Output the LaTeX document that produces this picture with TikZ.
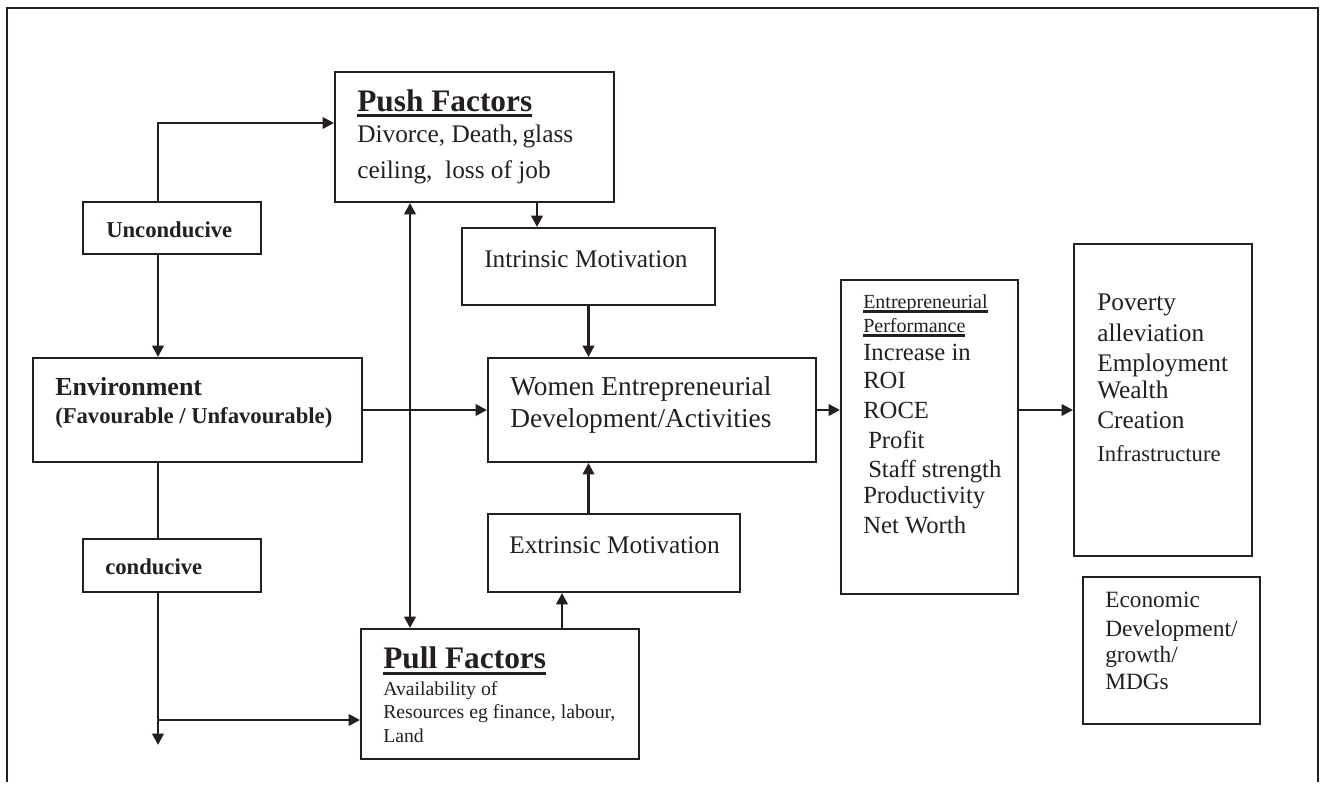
\documentclass[tikz,border=0pt]{standalone}
\usepackage{fontspec}
\setmainfont{Liberation Serif}
\usetikzlibrary{arrows.meta,calc}
\definecolor{ink}{HTML}{231F20}
\newcommand\fsz[1]{\fontsize{#1}{#1}\selectfont}
\newcommand\ulbox[3]{\setbox0=\hbox{#3}\rlap{\rule[-#1]{\wd0}{#2}}\box0}
\tikzset{
  box/.style={draw=ink, line width=1.5pt, inner sep=0pt, anchor=north west},
  txt/.style={anchor=base west, inner sep=0pt, text=ink},
  ln/.style={draw=ink, line width=1.9pt},
  arr/.style={ln, -{Triangle[length=8.5pt,width=8.5pt]}},
  arrtwo/.style={ln, {Triangle[length=8.5pt,width=8.5pt]}-{Triangle[length=8.5pt,width=8.5pt]}},
  frame/.style={draw=ink, line width=1.5pt}
}
\begin{document}
\begin{tikzpicture}[x=0.75pt,y=-0.75pt]
\useasboundingbox (0,0) rectangle (1320,785);
\draw[frame] (7,782) -- (7,8) -- (1318,8) -- (1318,782);

% boxes
\node[box, minimum width=279*0.75pt, minimum height=130*0.75pt] (push) at (334,71) {};
\node[box, minimum width=178*0.75pt, minimum height=52*0.75pt] (uncond) at (82,201) {};
\node[box, minimum width=329*0.75pt, minimum height=104*0.75pt] (env) at (32,357) {};
\node[box, minimum width=178*0.75pt, minimum height=53*0.75pt] (cond) at (82,538) {};
\node[box, minimum width=253*0.75pt, minimum height=77*0.75pt] (intr) at (461,227) {};
\node[box, minimum width=328*0.75pt, minimum height=104*0.75pt] (women) at (487,357) {};
\node[box, minimum width=252*0.75pt, minimum height=78*0.75pt] (extr) at (487,513) {};
\node[box, minimum width=278*0.75pt, minimum height=130*0.75pt] (pull) at (360,628) {};
\node[box, minimum width=177*0.75pt, minimum height=314*0.75pt] (perf) at (840,279) {};
\node[box, minimum width=178*0.75pt, minimum height=312*0.75pt] (pov) at (1073,243) {};
\node[box, minimum width=177*0.75pt, minimum height=147*0.75pt] (econ) at (1082,576) {};

% texts
\node[txt, font=\bfseries\fsz{23.5}] (pusht) at (357,111) {\ulbox{4.6pt}{2.4pt}{Push Factors}};
\node[txt, font=\fsz{19}] (pusha) at (357,142) {Divorce,\ Death,\,glass};
\node[txt, font=\fsz{19}] (pushb) at (357,178) {ceiling,\ \ loss of job};
\node[txt, font=\bfseries\fsz{17}] (uncondt) at (106,237) {Unconducive};
\node[txt, font=\bfseries\fsz{19.5}] (envt) at (55,395) {Environment};
\node[txt, font=\bfseries\fsz{17}] (envs) at (55,423) {(Favourable / Unfavourable)};
\node[txt, font=\bfseries\fsz{17}] (condt) at (105,574) {conducive};
\node[txt, font=\fsz{19}] (intrt) at (484,267) {Intrinsic Motivation};
\node[txt, font=\fsz{20.5}] (womena) at (510,395) {Women\ Entrepreneurial};
\node[txt, font=\fsz{20.5}] (womenb) at (510,427) {Development/Activities};
\node[txt, font=\fsz{19}] (extrt) at (509,553) {Extrinsic Motivation};
\node[txt, font=\bfseries\fsz{23.5}] (pullt) at (383,668) {\ulbox{5.5pt}{2.4pt}{Pull Factors}};
\node[txt, font=\fsz{14.8}] (pulla) at (383,695) {Availability of};
\node[txt, font=\fsz{14.8}] (pullb) at (383,718) {Resources eg finance, labour,};
\node[txt, font=\fsz{14.8}] (pullc) at (383,742) {Land};
\node[txt, font=\fsz{15}] (perfa) at (863,308) {\ulbox{3.4pt}{2pt}{Entrepreneurial}};
\node[txt, font=\fsz{15}] (perfb) at (863,332) {\ulbox{3.4pt}{2pt}{Performance}};
\node[txt, font=\fsz{18.5}] (perfc) at (863,360) {Increase in};
\node[txt, font=\fsz{18.5}] (perfd) at (863,388) {ROI};
\node[txt, font=\fsz{18.5}] (perfe) at (863,418) {ROCE};
\node[txt, font=\fsz{18.5}] (perff) at (868,448) {Profit};
\node[txt, font=\fsz{18.5}] (perfg) at (868,477) {Staff strength};
\node[txt, font=\fsz{18.5}] (perfh) at (863,503) {Productivity};
\node[txt, font=\fsz{18.5}] (perfi) at (863,533) {Net Worth};
\node[txt, font=\fsz{19}] (pova) at (1097,310) {Poverty};
\node[txt, font=\fsz{19}] (povb) at (1097,341) {alleviation};
\node[txt, font=\fsz{19}] (povc) at (1097,371) {Employment};
\node[txt, font=\fsz{19}] (povd) at (1097,398) {Wealth};
\node[txt, font=\fsz{19}] (pove) at (1097,428) {Creation};
\node[txt, font=\fsz{17}] (povf) at (1097,461) {Infrastructure};
\node[txt, font=\fsz{17.5}] (econa) at (1105,607) {Economic};
\node[txt, font=\fsz{17.5}] (econb) at (1105,636) {Development/};
\node[txt, font=\fsz{17.5}] (econc) at (1105,662) {growth/};
\node[txt, font=\fsz{17.5}] (econd) at (1105,689) {MDGs};

% connectors
\coordinate (vx) at (158,0);
\coordinate (vy) at (410,0);
\coordinate (px) at (537,0);
\coordinate (qx) at (562,0);
\coordinate (tip) at (158,745);
\coordinate (br) at (158,720);
\coordinate (pushin) at ($(push.north west)+(0,52)$);
\draw[arr] (vx |- uncond.north) |- (pushin);
\draw[arr] (vx |- uncond.south) -- (vx |- env.north);
\draw[ln] (vx |- env.south) -- (vx |- cond.north);
\draw[arr] (vx |- cond.south) -- (tip);
\draw[arr] (br) -- (br -| pull.west);
\draw[arrtwo] (vy |- push.south) -- (vy |- pull.north);
\draw[arr] (env.east) -- (women.west);
\draw[arr] (px |- push.south) -- (px |- intr.north);
\draw[arr] (intr.south) -- (intr.south |- women.north);
\draw[arr] (intr.south |- extr.north) -- (intr.south |- women.south);
\draw[arr] (qx |- pull.north) -- (qx |- extr.south);
\draw[arr] (women.east) -- (women.east -| perf.west);
\draw[arr] (women.east -| perf.east) -- (women.east -| pov.west);
\end{tikzpicture}
\end{document}
